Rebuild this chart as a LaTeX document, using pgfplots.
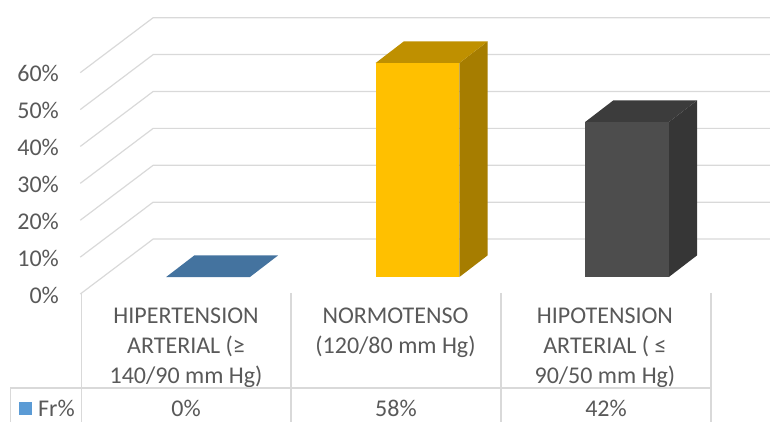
\documentclass[border=0pt]{standalone}
\usepackage{pgfplots}
\pgfplotsset{compat=1.18}
\usepackage{fontspec}
\setmainfont{Carlito}
\definecolor{gridc}{HTML}{D9D9D9}
\definecolor{textc}{HTML}{595959}
\definecolor{bluetop}{HTML}{44739F}
\definecolor{bluekey}{HTML}{5B9BD5}
\definecolor{yelfront}{HTML}{FFC000}
\definecolor{yeltop}{HTML}{BF9000}
\definecolor{yelside}{HTML}{A67D00}
\definecolor{darkfront}{HTML}{4D4D4D}
\definecolor{darktop}{HTML}{3C3C3C}
\definecolor{darkside}{HTML}{363636}
\pgfplotsset{
  wall/.style={draw=gridc, line width=1.2pt, forget plot},
  bar3d/.style={yshift=17pt, draw=none, forget plot},
}
\begin{document}
\begin{tikzpicture}
\begin{axis}[
  at={(0,0)}, anchor=south west,
  scale only axis, width=770pt, height=422pt,
  xmin=-0.9928, xmax=2.6826,
  ymin=-34.69, ymax=79.67,
  axis line style={draw=none},
  major tick length=0pt,
  font=\fontsize{24}{30}\selectfont,
  tick label style={text=textc, inner sep=0pt},
  ytick={0,10,20,30,40,50,60},
  yticklabels={0\%,10\%,20\%,30\%,40\%,50\%,60\%},
  yticklabel style={anchor=east, xshift=59pt, yshift=-1pt},
  xtick={0,1,2},
  xticklabels={
    {HIPERTENSION\\ARTERIAL (≥\\140/90 mm Hg)},
    {NORMOTENSO\\(120/80 mm Hg)},
    {HIPOTENSION\\ARTERIAL ( ≤\\90/50 mm Hg)}},
  xticklabel style={anchor=north, align=center, xshift=-22pt, yshift=114pt},
]
% back wall and side wall
\addplot[wall] coordinates {(-0.61,0)(-0.262,14.9)(2.6826,14.9)};
\addplot[wall] coordinates {(-0.61,10)(-0.262,24.9)(2.6826,24.9)};
\addplot[wall] coordinates {(-0.61,20)(-0.262,34.9)(2.6826,34.9)};
\addplot[wall] coordinates {(-0.61,30)(-0.262,44.9)(2.6826,44.9)};
\addplot[wall] coordinates {(-0.61,40)(-0.262,54.9)(2.6826,54.9)};
\addplot[wall] coordinates {(-0.61,50)(-0.262,64.9)(2.6826,64.9)};
\addplot[wall] coordinates {(-0.61,60)(-0.262,74.9)(2.6826,74.9)};

% data table under the chart
\addplot[wall] coordinates {(-0.606,0.3)(-0.606,-34.69)};
\addplot[wall] coordinates {(0.396,0.3)(0.396,-34.69)};
\addplot[wall] coordinates {(1.399,0.3)(1.399,-34.69)};
\addplot[wall] coordinates {(2.401,0.3)(2.401,-34.69)};
\addplot[wall] coordinates {(-0.945,-25.5)(2.401,-25.5)};
\addplot[wall] coordinates {(-0.945,-25.5)(-0.945,-34.69)};

% HIPERTENSION, 0%: only the top face shows
\addplot[bar3d, fill=bluetop] coordinates {(-0.2,0)(0.2,0)(0.335,5.88)(-0.065,5.88)} -- cycle;

% NORMOTENSO, 58%
\addplot[bar3d, fill=yelside] coordinates {(1.2,0)(1.335,5.88)(1.335,63.88)(1.2,58)} -- cycle;
\addplot[bar3d, fill=yeltop] coordinates {(0.8,58)(1.2,58)(1.335,63.88)(0.935,63.88)} -- cycle;
\addplot[bar3d, ybar, bar width=84pt, fill=yelfront] coordinates {(1,58)};

% HIPOTENSION, 42%
\addplot[bar3d, fill=darkside] coordinates {(2.2,0)(2.335,5.88)(2.335,47.88)(2.2,42)} -- cycle;
\addplot[bar3d, fill=darktop] coordinates {(1.8,42)(2.2,42)(2.335,47.88)(1.935,47.88)} -- cycle;
\addplot[bar3d, ybar, bar width=84pt, fill=darkfront] coordinates {(2,42)};

% legend key and value row
\node[text=textc, inner sep=0pt] at (axis cs:-0.105,-31) {0\%};
\node[text=textc, inner sep=0pt] at (axis cs:0.897,-31) {58\%};
\node[text=textc, inner sep=0pt] at (axis cs:1.9,-31) {42\%};
\node[text=textc, inner sep=0pt, anchor=west] at (axis cs:-0.812,-31) {Fr\%};
\fill[bluekey] (axis cs:-0.902,-29.2) rectangle (axis cs:-0.84,-32.7);
\end{axis}
\end{tikzpicture}
\end{document}
